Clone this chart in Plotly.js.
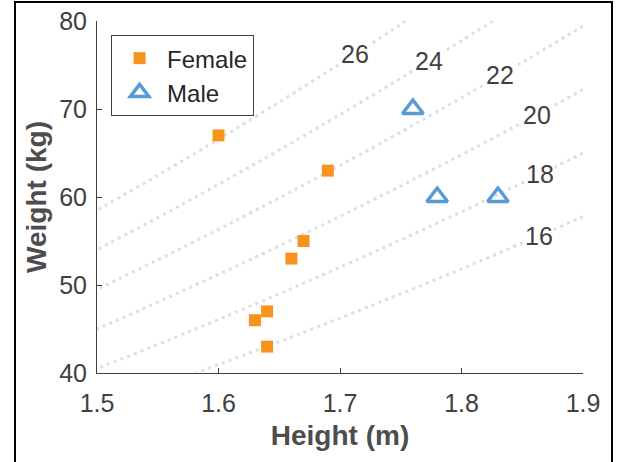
<!DOCTYPE html>
<html>
<head>
<meta charset="utf-8">
<script src="https://cdn.plot.ly/plotly-3.0.1.min.js"></script>
<style>
  html, body { margin: 0; padding: 0; background: #fff; }
  #chart { width: 619px; height: 462px; }
  #frame { position: absolute; left: 14px; top: 1px; width: 595px; height: 470px;
           border: 2px solid #000; border-bottom: none; pointer-events: none; }
</style>
</head>
<body>
<div id="chart"></div>
<div id="frame"></div>
<script>
// Scatter data
const femaleHeight = [1.60, 1.69, 1.67, 1.66, 1.64, 1.63, 1.64];
const femaleWeight = [67, 63, 55, 53, 47, 46, 43];
const maleHeight = [1.76, 1.78, 1.83];
const maleWeight = [70, 60, 60];

// BMI contour levels and where their labels sit (height, m)
const bmiLevels = [16, 18, 20, 22, 24, 26];
const labelHeights = [1.864, 1.865, 1.862, 1.832, 1.773, 1.712];

// Grid for the BMI field (weight / height^2)
const gridH = [];
for (let i = 0; i <= 80; i++) gridH.push(1.5 + i * 0.005);
const gridW = [];
for (let j = 0; j <= 80; j++) gridW.push(40 + j * 0.5);
const gridBMI = gridW.map(w => gridH.map(h => w / (h * h)));

const font = '"Liberation Sans", Arial, Helvetica, sans-serif';
const txt = '#404040';

const traces = [
  {
    type: 'contour', x: gridH, y: gridW, z: gridBMI,
    autocontour: false,
    contours: { start: bmiLevels[0], end: bmiLevels[bmiLevels.length - 1], size: 2, coloring: 'none', showlabels: false },
    line: { color: '#dcdfe0', width: 3, dash: '3px,4.3px', smoothing: 0 },
    showscale: false, showlegend: false, hoverinfo: 'skip'
  },
  {
    type: 'scatter', mode: 'markers', name: 'Female',
    x: femaleHeight, y: femaleWeight,
    marker: { symbol: 'square', size: 12, color: '#f7941e', line: { width: 0 } }
  },
  {
    type: 'scatter', mode: 'markers', name: 'Male',
    x: maleHeight, y: maleWeight,
    marker: { symbol: 'triangle-up-open', size: 18, color: '#5b9bd5', line: { width: 3.5, color: '#5b9bd5' } }
  }
];

const annotations = bmiLevels.map((b, i) => ({
  x: labelHeights[i], y: b * labelHeights[i] * labelHeights[i],
  xref: 'x', yref: 'y', text: String(b), showarrow: false,
  font: { family: font, size: 25, color: txt },
  bgcolor: '#ffffff', borderpad: 0
}));

const layout = {
  width: 619, height: 462,
  margin: { l: 97, r: 36, t: 21, b: 89, pad: 0 },
  paper_bgcolor: '#fff', plot_bgcolor: '#fff',
  font: { family: font, color: txt },
  showlegend: true,
  legend: {
    x: 0.029, y: 0.96, xanchor: 'left', yanchor: 'top',
    bordercolor: '#404040', borderwidth: 1, bgcolor: '#fff',
    font: { family: font, size: 24, color: '#262626' },
    itemwidth: 45, tracegroupgap: 0
  },
  xaxis: {
    range: [1.5, 1.9], dtick: 0.1, tick0: 1.5, tickformat: '.1f',
    showgrid: false, zeroline: false, showline: true, linecolor: '#404040', linewidth: 1,
    ticks: 'inside', ticklen: 5, tickcolor: '#404040', ticklabelstandoff: 8,
    tickfont: { family: font, size: 25, color: txt },
    title: { text: '<b>Height (m)</b>', font: { family: font, size: 28, color: '#4d4d4d' }, standoff: 9 }
  },
  yaxis: {
    range: [40, 80], dtick: 10,
    showgrid: false, zeroline: false, showline: true, linecolor: '#404040', linewidth: 1,
    ticks: 'inside', ticklen: 5, tickcolor: '#404040', ticklabelstandoff: 4,
    tickfont: { family: font, size: 25, color: txt },
    title: { text: '<b>Weight (kg)</b>', font: { family: font, size: 28, color: '#4d4d4d' }, standoff: 4 }
  },
  annotations: annotations
};

Plotly.newPlot('chart', traces, layout, { staticPlot: true, displayModeBar: false });
</script>
</body>
</html>
